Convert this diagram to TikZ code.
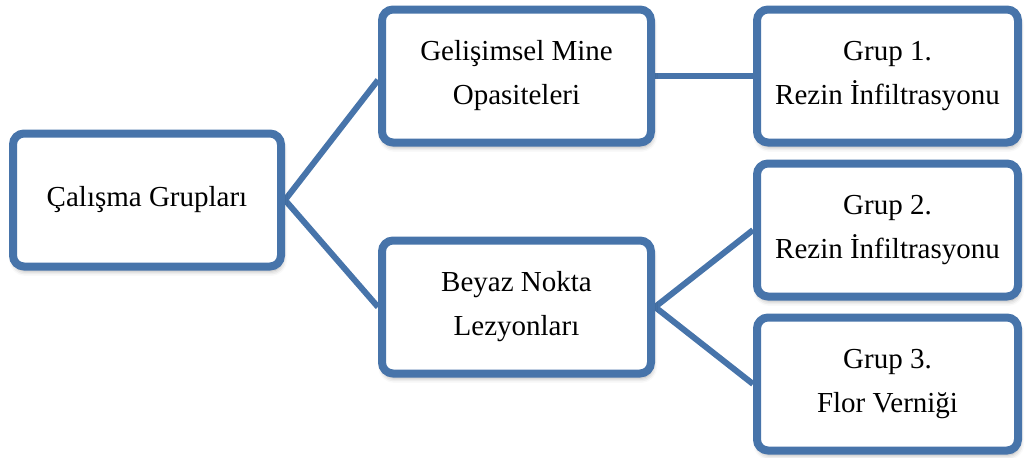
\documentclass[tikz,border=0pt]{standalone}
\usepackage{fontspec}
\setmainfont{Liberation Serif}
\usetikzlibrary{shadows.blur,backgrounds}
\definecolor{boxblue}{RGB}{71,116,170}
\tikzset{
  groupbox/.style={draw=boxblue, line width=4pt, fill=white, rounded corners=5.5pt,
    inner sep=0pt, align=center, minimum height=66.5pt,
    font=\fontsize{14.5pt}{22pt}\selectfont,
    blur shadow={shadow xshift=0.6pt, shadow yshift=-2.2pt, shadow blur radius=2.5pt, shadow opacity=35}},
  widebox/.style={groupbox, minimum width=134.5pt},
  leafbox/.style={groupbox, minimum width=130.5pt},
  link/.style={draw=boxblue, line width=3pt}
}
\begin{document}
\begin{tikzpicture}
\useasboundingbox (0pt,0pt) rectangle (513pt,-228.5pt);

\node[widebox, minimum width=134pt] (root) at (73.5pt,-100pt) {Çalışma Grupları};
\node[widebox] (dev) at (258.25pt,-38pt) {Gelişimsel Mine\\Opasiteleri};
\node[widebox] (white) at (258.25pt,-153.5pt) {Beyaz Nokta\\Lezyonları};
\node[leafbox] (g1) at (443.75pt,-38pt) {Grup 1.\\Rezin İnfiltrasyonu};
\node[leafbox] (g2) at (443.75pt,-115pt) {Grup 2.\\Rezin İnfiltrasyonu};
\node[leafbox] (g3) at (443.75pt,-192pt) {Grup 3.\\Flor Verniği};

\begin{scope}[on background layer]
  \draw[link] (root.east) -- ([yshift=-2pt]dev.west);
  \draw[link] (root.east) -- (white.west);
  \draw[link] (dev.east) -- (g1.west);
  \draw[link] (white.east) -- (g2.west);
  \draw[link] (white.east) -- (g3.west);
\end{scope}
\end{tikzpicture}
\end{document}
